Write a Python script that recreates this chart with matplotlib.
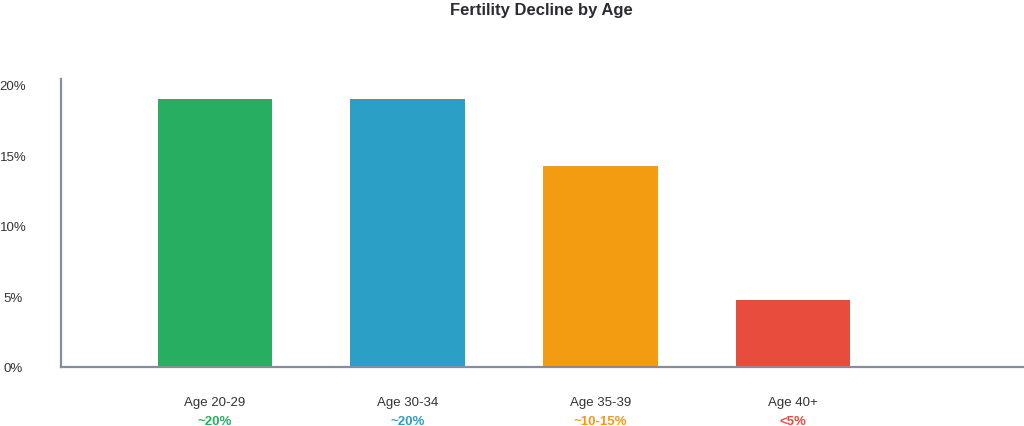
import numpy as np
import matplotlib.pyplot as plt

plt.rcParams['font.family'] = ['Liberation Sans', 'DejaVu Sans']

categories = ['Age 20-29', 'Age 30-34', 'Age 35-39', 'Age 40+']
values = [19.0, 19.0, 14.25, 4.75]
value_labels = ['~20%', '~20%', '~10-15%', '<5%']
colors = ['#27ae60', '#2b9fc6', '#f39c12', '#e74c3c']
yticks = [0, 5, 10, 15, 20]
ytick_labels = ['0%', '5%', '10%', '15%', '20%']

fig = plt.figure(figsize=(10.24, 4.27), dpi=100)
ax = fig.add_axes([61 / 1024, 1 - 368 / 427, (1024 - 61) / 1024, (368 - 80) / 427])

x = np.arange(len(categories))
ax.bar(x, values, width=0.595, color=colors, zorder=2)

ax.set_xlim(-0.8, 4.2)
ax.set_ylim(0, 20.4)

for side in ['top', 'right']:
    ax.spines[side].set_visible(False)
for side in ['left', 'bottom']:
    ax.spines[side].set_color('#878c9e')
    ax.spines[side].set_linewidth(1.6)

ax.set_yticks(yticks)
ax.set_yticklabels(ytick_labels, fontsize=9.5, color='#333333')
ax.tick_params(axis='y', length=0, pad=34.5)
for lab in ax.get_yticklabels():
    lab.set_horizontalalignment('center')
ax.set_xticks([])

# offsets in pixels converted to points (dpi 100)
px = 72 / 100
for xi, cat, lab, col in zip(x, categories, value_labels, colors):
    ax.annotate(cat, xy=(xi, 0), xycoords='data', xytext=(0, -35 * px),
                textcoords='offset points', ha='center', va='center',
                fontsize=9.5, color='#333333')
    ax.annotate(lab, xy=(xi, 0), xycoords='data', xytext=(0, -54 * px),
                textcoords='offset points', ha='center', va='center',
                fontsize=9.5, color=col, fontweight='bold')

fig.text(0.529, 0.993, 'Fertility Decline by Age', ha='center', va='top',
         fontsize=12, fontweight='bold', color='#2b2b33')

fig.savefig('out.png', dpi=100, facecolor='white')
